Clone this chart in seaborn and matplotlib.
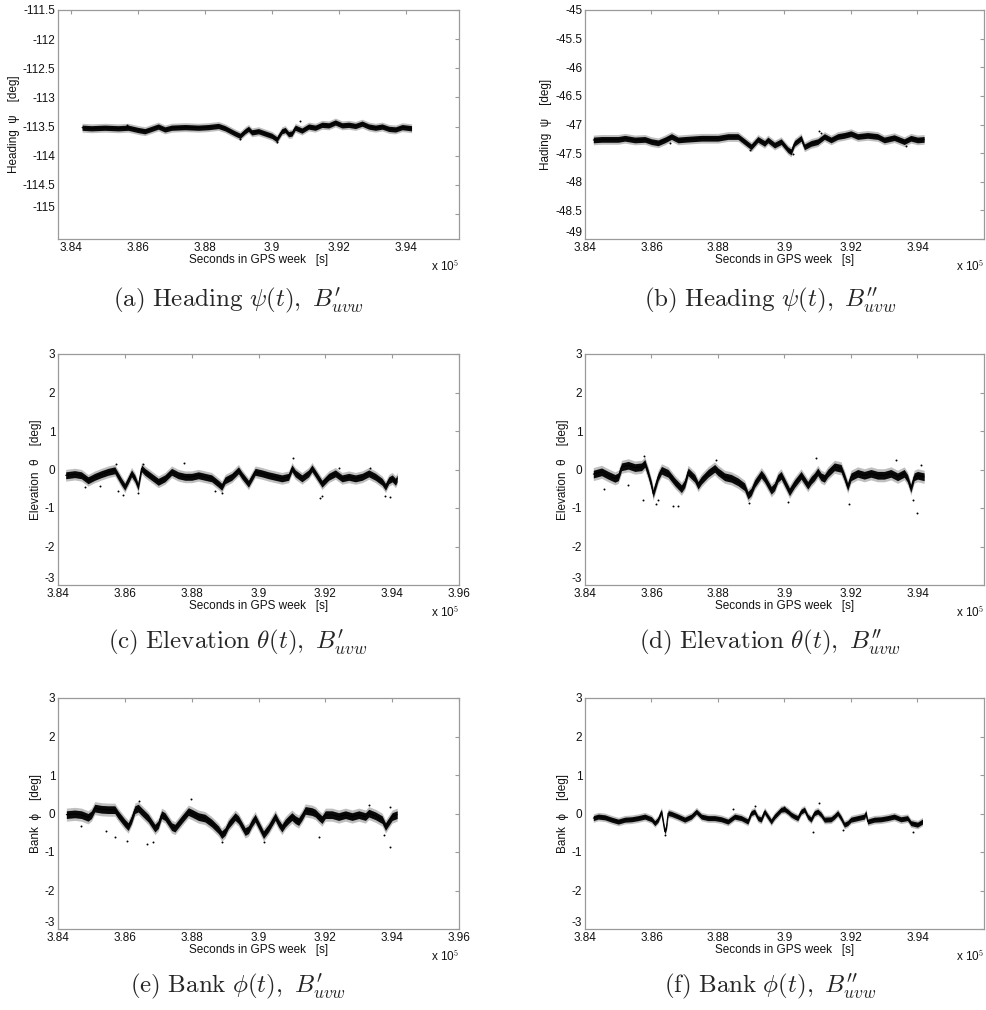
import numpy as np
import matplotlib
matplotlib.use('Agg')
import matplotlib.pyplot as plt
import seaborn as sns

sns.set_theme(style='white')
plt.rcParams['font.family'] = ['Liberation Sans', 'DejaVu Sans']
plt.rcParams['mathtext.fontset'] = 'cm'
plt.rcParams['axes.unicode_minus'] = False

# traces: (seconds in GPS week / 1e5, angle in deg)
heading_a = [(3.8432, -113.52), (3.846, -113.53), (3.850, -113.52), (3.854, -113.53), (3.857, -113.52),
             (3.860, -113.56), (3.862, -113.58), (3.864, -113.54), (3.866, -113.50), (3.868, -113.55),
             (3.870, -113.52), (3.874, -113.51), (3.878, -113.52), (3.881, -113.51), (3.884, -113.49),
             (3.886, -113.53), (3.889, -113.62), (3.8905, -113.66), (3.892, -113.58), (3.893, -113.54),
             (3.894, -113.60), (3.896, -113.58), (3.898, -113.62), (3.900, -113.66), (3.9015, -113.72),
             (3.903, -113.58), (3.904, -113.56), (3.905, -113.63), (3.906, -113.62), (3.907, -113.52),
             (3.909, -113.57), (3.911, -113.50), (3.913, -113.52), (3.915, -113.47), (3.917, -113.48),
             (3.919, -113.43), (3.921, -113.48), (3.923, -113.47), (3.925, -113.49), (3.927, -113.45),
             (3.929, -113.50), (3.931, -113.52), (3.933, -113.50), (3.935, -113.54), (3.937, -113.55),
             (3.939, -113.51), (3.9418, -113.53)]
heading_b = [(3.8425, -47.27), (3.845, -47.26), (3.850, -47.26), (3.852, -47.24), (3.855, -47.27),
             (3.858, -47.26), (3.860, -47.30), (3.862, -47.32), (3.864, -47.27), (3.866, -47.21),
             (3.868, -47.27), (3.870, -47.26), (3.875, -47.24), (3.880, -47.24), (3.883, -47.21),
             (3.886, -47.21), (3.888, -47.30), (3.890, -47.39), (3.892, -47.26), (3.894, -47.33),
             (3.895, -47.27), (3.897, -47.36), (3.899, -47.30), (3.901, -47.44), (3.902, -47.48),
             (3.903, -47.33), (3.905, -47.24), (3.906, -47.39), (3.908, -47.33), (3.910, -47.30),
             (3.912, -47.21), (3.914, -47.27), (3.916, -47.21), (3.918, -47.19), (3.920, -47.16),
             (3.922, -47.21), (3.925, -47.19), (3.928, -47.21), (3.930, -47.27), (3.933, -47.23),
             (3.936, -47.30), (3.938, -47.24), (3.940, -47.27), (3.942, -47.26)]
elevation_a = [(3.8423, -0.15), (3.845, -0.12), (3.847, -0.15), (3.849, -0.28), (3.851, -0.19), (3.853, -0.12),
               (3.855, -0.06), (3.857, -0.02), (3.859, -0.32), (3.860, -0.45), (3.861, -0.28), (3.862, -0.10),
               (3.863, -0.23), (3.864, -0.45), (3.865, 0.03), (3.866, -0.06), (3.868, -0.19), (3.870, -0.32),
               (3.872, -0.23), (3.874, -0.06), (3.876, -0.15), (3.878, -0.19), (3.880, -0.19), (3.882, -0.15),
               (3.884, -0.19), (3.886, -0.23), (3.888, -0.37), (3.889, -0.45), (3.890, -0.28), (3.892, -0.19),
               (3.894, -0.02), (3.895, -0.15), (3.897, -0.37), (3.899, -0.06), (3.901, -0.10), (3.903, -0.15),
               (3.905, -0.19), (3.907, -0.23), (3.909, -0.19), (3.910, 0.03), (3.911, -0.10), (3.913, -0.23),
               (3.915, -0.10), (3.916, 0.03), (3.917, -0.10), (3.919, -0.37), (3.921, -0.19), (3.923, -0.10),
               (3.925, -0.23), (3.927, -0.19), (3.929, -0.23), (3.931, -0.19), (3.933, -0.10), (3.935, -0.19),
               (3.937, -0.32), (3.938, -0.45), (3.939, -0.28), (3.940, -0.23), (3.941, -0.32), (3.9415, -0.23)]
elevation_b = [(3.8425, -0.12), (3.845, -0.06), (3.847, -0.15), (3.849, -0.23), (3.850, -0.19), (3.851, 0.07),
               (3.853, 0.11), (3.855, 0.05), (3.857, 0.07), (3.858, 0.16), (3.859, -0.10), (3.860, -0.41),
               (3.8605, -0.63), (3.862, -0.19), (3.863, -0.02), (3.865, -0.10), (3.867, -0.32), (3.869, -0.50),
               (3.870, -0.37), (3.871, -0.06), (3.873, -0.23), (3.874, -0.41), (3.875, -0.28), (3.877, -0.10),
               (3.879, 0.03), (3.880, -0.06), (3.882, -0.19), (3.884, -0.23), (3.886, -0.32), (3.888, -0.45),
               (3.889, -0.67), (3.890, -0.58), (3.891, -0.37), (3.893, -0.12), (3.894, -0.23), (3.896, -0.54),
               (3.897, -0.45), (3.898, -0.23), (3.899, -0.15), (3.900, -0.32), (3.9015, -0.58), (3.903, -0.37),
               (3.905, -0.15), (3.906, -0.28), (3.907, -0.41), (3.908, -0.28), (3.909, -0.19), (3.910, -0.06),
               (3.911, -0.19), (3.912, -0.23), (3.913, -0.10), (3.915, 0.07), (3.917, 0.03), (3.918, -0.19),
               (3.919, -0.45), (3.920, -0.19), (3.922, -0.10), (3.924, -0.15), (3.926, -0.10), (3.928, -0.15),
               (3.930, -0.15), (3.932, -0.10), (3.934, -0.19), (3.936, -0.10), (3.937, -0.23), (3.938, -0.50),
               (3.939, -0.19), (3.940, -0.15), (3.942, -0.19)]
bank_a = [(3.8425, -0.03), (3.845, -0.01), (3.847, -0.03), (3.849, -0.10), (3.850, -0.03), (3.851, 0.14),
          (3.853, 0.11), (3.855, 0.10), (3.857, 0.10), (3.858, -0.03), (3.860, -0.25), (3.861, -0.34),
          (3.862, -0.16), (3.863, 0.10), (3.864, 0.14), (3.865, 0.05), (3.867, -0.12), (3.869, -0.38),
          (3.870, -0.29), (3.871, -0.03), (3.872, -0.08), (3.874, -0.34), (3.875, -0.38), (3.877, -0.16),
          (3.879, 0.05), (3.880, 0.01), (3.882, -0.08), (3.884, -0.12), (3.886, -0.25), (3.888, -0.42),
          (3.889, -0.55), (3.890, -0.47), (3.891, -0.29), (3.893, -0.08), (3.894, -0.16), (3.896, -0.47),
          (3.897, -0.42), (3.898, -0.25), (3.899, -0.12), (3.900, -0.29), (3.9015, -0.55), (3.903, -0.38),
          (3.905, -0.08), (3.906, -0.25), (3.907, -0.38), (3.908, -0.25), (3.909, -0.16), (3.910, -0.08),
          (3.911, -0.16), (3.912, -0.21), (3.913, -0.08), (3.914, 0.08), (3.916, 0.05), (3.917, 0.01),
          (3.918, -0.08), (3.919, -0.16), (3.920, -0.03), (3.922, -0.03), (3.924, -0.08), (3.926, -0.03),
          (3.928, -0.08), (3.930, -0.03), (3.932, -0.08), (3.933, 0.01), (3.935, -0.06), (3.937, -0.16),
          (3.938, -0.34), (3.939, -0.21), (3.940, -0.08), (3.9415, -0.03)]
bank_b = [(3.8425, -0.12), (3.844, -0.08), (3.846, -0.10), (3.848, -0.16), (3.850, -0.21), (3.852, -0.16),
          (3.854, -0.15), (3.856, -0.12), (3.858, -0.08), (3.860, -0.15), (3.861, -0.25), (3.862, -0.16),
          (3.863, 0.05), (3.864, -0.47), (3.8645, -0.35), (3.865, 0.01), (3.866, -0.01), (3.868, -0.08),
          (3.870, -0.16), (3.872, -0.08), (3.8735, 0.05), (3.875, -0.08), (3.877, -0.12), (3.879, -0.12),
          (3.881, -0.15), (3.883, -0.21), (3.885, -0.08), (3.887, -0.12), (3.889, -0.21), (3.890, 0.01),
          (3.891, 0.05), (3.892, -0.12), (3.893, -0.16), (3.894, 0.05), (3.895, -0.08), (3.896, -0.21),
          (3.897, -0.08), (3.898, 0.01), (3.899, 0.10), (3.900, 0.11), (3.901, 0.05), (3.902, -0.03),
          (3.903, -0.08), (3.904, -0.12), (3.905, 0.05), (3.906, 0.10), (3.907, -0.08), (3.908, -0.16),
          (3.909, 0.01), (3.910, 0.05), (3.911, -0.03), (3.912, -0.16), (3.914, -0.15), (3.915, -0.08),
          (3.916, 0.01), (3.917, -0.12), (3.918, -0.29), (3.919, -0.25), (3.920, -0.16), (3.922, -0.12),
          (3.924, -0.08), (3.9245, 0.01), (3.925, -0.21), (3.927, -0.16), (3.929, -0.15), (3.931, -0.12),
          (3.933, -0.08), (3.935, -0.15), (3.937, -0.12), (3.938, -0.25), (3.940, -0.29), (3.9415, -0.21)]

# stray samples away from the band
heading_a_out = [(3.9085, -113.41), (3.8905, -113.72), (3.9015, -113.76), (3.8565, -113.48)]
heading_b_out = [(3.9105, -47.12), (3.9110, -47.14), (3.8895, -47.45), (3.9025, -47.52), (3.9365, -47.37),
                 (3.8655, -47.33)]
elevation_a_out = [(3.8575, 0.15), (3.8595, -0.65), (3.8638, -0.60), (3.8655, 0.15), (3.8778, 0.18),
                   (3.8890, -0.62), (3.9102, 0.30), (3.9185, -0.75), (3.9190, -0.68), (3.9380, -0.68),
                   (3.9395, -0.72), (3.8525, -0.42), (3.8580, -0.55), (3.8480, -0.45), (3.8870, -0.55),
                   (3.9240, 0.05), (3.9335, 0.05)]
elevation_b_out = [(3.8458, -0.50), (3.8578, 0.35), (3.8575, -0.80), (3.8615, -0.90), (3.8665, -0.95),
                   (3.8680, -0.95), (3.8795, 0.25), (3.8893, -0.88), (3.9095, 0.30), (3.9195, -0.90),
                   (3.9335, 0.25), (3.9385, -0.80), (3.9398, -1.12), (3.9412, 0.12), (3.9010, -0.85),
                   (3.8620, -0.80), (3.8530, -0.40)]
bank_a_out = [(3.8570, -0.60), (3.8605, -0.72), (3.8665, -0.78), (3.8685, -0.75), (3.8643, 0.32),
              (3.8798, 0.38), (3.9180, -0.60), (3.9395, -0.88), (3.9375, -0.55), (3.9332, 0.22),
              (3.9395, 0.18), (3.8470, -0.32), (3.8545, -0.45), (3.8890, -0.75), (3.9015, -0.75)]
bank_b_out = [(3.9103, 0.27), (3.8910, 0.20), (3.9000, 0.18), (3.9085, -0.48), (3.9175, -0.42),
              (3.8640, -0.55), (3.9385, -0.48), (3.8845, 0.12)]

# half thickness of the dense band (deg)
band_halfwidth = {'a': 0.045, 'b': 0.05, 'c': 0.09, 'd': 0.10, 'e': 0.10, 'f': 0.065}

heading_a_ticks = [-111.5, -112, -112.5, -113, -113.5, -114, -114.5, -115]
heading_b_ticks = [-45, -45.5, -46, -46.5, -47, -47.5, -48, -48.5, -49]
angle_ticks = [-3, -2, -1, 0, 1, 2, 3]
time_ticks_long = [3.84, 3.86, 3.88, 3.90, 3.92, 3.94, 3.96]
time_ticks_short = [3.84, 3.86, 3.88, 3.90, 3.92, 3.94]

panels = [
    dict(key='a', trace=heading_a, out=heading_a_out, ylabel='Heading  ψ    [deg]',
         ylim=(-115.43, -111.5), yticks=heading_a_ticks, xlim=(3.836, 3.956), xticks=time_ticks_short,
         pos=[58, 10, 401, 229], caption=r"$\mathrm{(a)\ Heading}\ \psi(t),\ B^{\prime}_{uvw}$", cx=238, cy=300),
    dict(key='b', trace=heading_b, out=heading_b_out, ylabel='Hading  ψ    [deg]',
         ylim=(-49, -45), yticks=heading_b_ticks, xlim=(3.84, 3.96), xticks=time_ticks_short,
         pos=[585, 10, 399, 229], caption=r"$\mathrm{(b)\ Heading}\ \psi(t),\ B^{\prime\prime}_{uvw}$", cx=770, cy=300),
    dict(key='c', trace=elevation_a, out=elevation_a_out, ylabel='Elevation  θ    [deg]',
         ylim=(-3, 3), yticks=angle_ticks, xlim=(3.84, 3.96), xticks=time_ticks_long,
         pos=[58, 354, 401, 231], caption=r"$\mathrm{(c)\ Elevation}\ \theta(t),\ B^{\prime}_{uvw}$", cx=238, cy=642),
    dict(key='d', trace=elevation_b, out=elevation_b_out, ylabel='Elevation  θ    [deg]',
         ylim=(-3, 3), yticks=angle_ticks, xlim=(3.84, 3.96), xticks=time_ticks_short,
         pos=[585, 354, 399, 231], caption=r"$\mathrm{(d)\ Elevation}\ \theta(t),\ B^{\prime\prime}_{uvw}$", cx=770, cy=642),
    dict(key='e', trace=bank_a, out=bank_a_out, ylabel='Bank  ϕ    [deg]',
         ylim=(-3, 3), yticks=angle_ticks, xlim=(3.84, 3.96), xticks=time_ticks_long,
         pos=[58, 698, 401, 231], caption=r"$\mathrm{(e)\ Bank}\ \phi(t),\ B^{\prime}_{uvw}$", cx=238, cy=986),
    dict(key='f', trace=bank_b, out=bank_b_out, ylabel='Bank  ϕ    [deg]',
         ylim=(-3, 3), yticks=angle_ticks, xlim=(3.84, 3.96), xticks=time_ticks_short,
         pos=[585, 698, 399, 231], caption=r"$\mathrm{(f)\ Bank}\ \phi(t),\ B^{\prime\prime}_{uvw}$", cx=770, cy=986),
]

W, H = 987, 1010
fig = plt.figure(figsize=(W / 100, H / 100), dpi=100)
spine_col = '#9a9a9a'

for p in panels:
    x0, y0, w, h = p['pos']
    ax = fig.add_axes([x0 / W, 1 - (y0 + h) / H, w / W, h / H])
    t, v = np.array(p['trace']).T
    hw = band_halfwidth[p['key']]
    ax.fill_between(t, v - 1.7 * hw, v + 1.7 * hw, color='black', alpha=0.25, lw=0)
    ax.fill_between(t, v - hw, v + hw, color='black', alpha=0.95, lw=0)
    sns.lineplot(x=t, y=v, ax=ax, color='black', lw=0.8)
    ot, ov = np.array(p['out']).T
    sns.scatterplot(x=ot, y=ov, ax=ax, color='black', s=2, linewidth=0)

    ax.set_xlim(*p['xlim'])
    ax.set_ylim(*p['ylim'])
    ax.set_xticks(p['xticks'])
    ax.set_xticklabels(['%g' % x for x in p['xticks']])
    ax.set_yticks(p['yticks'])
    ylabels = ax.set_yticklabels(['%g' % y for y in p['yticks']])
    # the lowest y label sits just above the corner, as in the original
    low = int(np.argmin(p['yticks']))
    ylabels[low].set_va('bottom')
    for s in ax.spines.values():
        s.set_color(spine_col)
        s.set_linewidth(0.9)
    ax.tick_params(direction='in', top=True, right=True, length=3, width=0.8,
                   color=spine_col, labelsize=8.5, pad=2, labelcolor='#111111')
    ax.set_xlabel('Seconds in GPS week   [s]', fontsize=8.5, labelpad=0, color='#111111')
    ax.set_ylabel(p['ylabel'], fontsize=8.5, labelpad=2, color='#111111')
    ax.text(1.0, -0.12, r'x 10$^{5}$', transform=ax.transAxes, ha='right', va='center',
            fontsize=8.5, color='#111111')

    fig.text(p['cx'] / W, 1 - p['cy'] / H, p['caption'], ha='center', va='center', fontsize=18)

fig.savefig('out.png', dpi=100, facecolor='white')
